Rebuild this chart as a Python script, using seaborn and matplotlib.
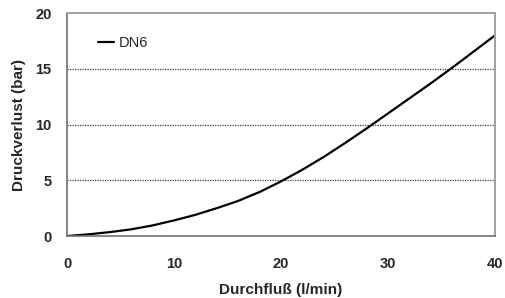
import matplotlib
matplotlib.use("Agg")
import matplotlib.pyplot as plt
import seaborn as sns
import pandas as pd

durchfluss = [0, 2, 4, 6, 8, 10, 12, 14, 16, 18, 20, 22, 24, 26, 28, 30, 32, 34, 36, 38, 40]
druckverlust = [0, 0.15, 0.35, 0.6, 0.95, 1.4, 1.9, 2.5, 3.15, 3.95, 4.9, 5.95, 7.1, 8.35,
                9.65, 11.0, 12.35, 13.7, 15.1, 16.55, 18.0]
serie = "DN6"

df = pd.DataFrame({"x": durchfluss, "y": druckverlust, "serie": serie})

sns.set_style("white")
plt.rcParams["font.family"] = ["Liberation Sans", "DejaVu Sans"]

fig = plt.figure(figsize=(5.05, 2.98), dpi=100)
ax = fig.add_axes([0.1327, 0.208, 0.8475, 0.748])

sns.lineplot(data=df, x="x", y="y", hue="serie", palette=["black"], linewidth=1.6, ax=ax)

ax.set_xlim(0, 40)
ax.set_ylim(0, 20)
ax.set_xticks([0, 10, 20, 30, 40])
ax.set_yticks([0, 5, 10, 15, 20])
for v in [5, 10, 15]:
    ax.axhline(v, color="#404040", linestyle=(0, (1, 1)), linewidth=0.9, zorder=0)

ax.tick_params(axis="both", length=0, labelsize=10.5)
ax.tick_params(axis="y", pad=11)
ax.tick_params(axis="x", pad=15)
for lab in ax.get_xticklabels() + ax.get_yticklabels():
    lab.set_fontweight("bold")

for side in ["left", "bottom"]:
    ax.spines[side].set_color("#707070")
    ax.spines[side].set_linewidth(1.2)
for side in ["top", "right"]:
    ax.spines[side].set_color("#a0a0a0")
    ax.spines[side].set_linewidth(1.4)

ax.set_xlabel("Durchfluß (l/min)", fontsize=11, fontweight="bold", labelpad=9)
ax.set_ylabel("Druckverlust (bar)", fontsize=11, fontweight="bold", labelpad=7)

ax.legend(loc="upper left", bbox_to_anchor=(0.055, 0.93), frameon=False,
          handlelength=1.1, handletextpad=0.3, fontsize=10.5, borderpad=0)

fig.savefig("out.png", dpi=100)
